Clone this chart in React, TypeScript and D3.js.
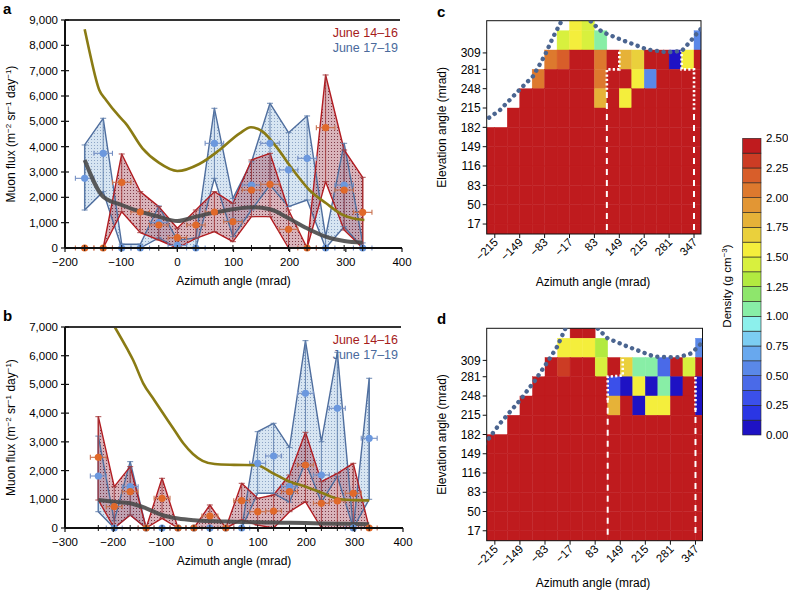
import * as d3 from 'd3'

const FONT = '"Liberation Sans", Arial, Helvetica, sans-serif'

// ---- panel a (azimuth bins, mrad) ----
const azA = [-165, -132, -99, -66, -33, 0, 33, 66, 99, 132, 165, 198, 231, 264, 297, 330]
const redAFlux = [0, 0, 2593, 1421, 908, 408, 908, 1421, 1040, 2290, 2514, 737, 0, 4751, 2290, 1408]
const redAUp = [0, 0, 3711, 2224, 1632, 777, 1500, 2224, 1764, 3474, 3737, 1500, 0, 6830, 3869, 2790]
const redALo = [0, 0, 1434, 606, 316, 0, 382, 645, 250, 1237, 1237, 0, 0, 2619, 711, 0]
const blueAFlux = [2750, 3738, 0, 0, 1000, 100, 0, 4132, 1066, 2487, 4132, 3080, 3540, 0, 2487, 0]
const blueAUp = [4067, 5120, 150, 150, 1658, 300, 400, 5514, 1960, 3400, 5712, 4553, 5212, 448, 4132, 200]
const blueALo = [1500, 2224, 0, 0, 400, 0, 0, 2750, 448, 1500, 2487, 1632, 1895, 0, 842, 0]
const grayAFlux = [3474, 2027, 1698, 1434, 1237, 1066, 1237, 1395, 1527, 1606, 1527, 1171, 777, 448, 277, 211]
const oliveAAz = [-165, -157, -139, -127, -103, -92, -62, -33, 0, 39, 75, 111, 131, 152, 176, 206, 235, 265, 295, 312, 333]
const oliveAFlux = [8634, 7817, 6238, 5843, 5184, 4921, 3934, 3368, 3039, 3316, 3868, 4526, 4764, 4593, 4000, 3079, 2290, 1764, 1303, 1171, 1105]

// ---- panel b ----
const azB = [-231, -198, -165, -132, -99, -66, -33, 0, 33, 66, 99, 132, 165, 198, 231, 264, 297, 330]
const redBFlux = [2462, 742, 1265, 0, 1033, 0, 0, 418, 0, 951, 568, 592, 1265, 2194, 860, 940, 1208, 0]
const redBUp = [3877, 1439, 2136, 0, 1730, 0, 0, 801, 0, 1556, 1033, 1149, 1846, 3333, 1613, 1904, 2252, 0]
const redBLo = [975, 0, 453, 0, 337, 0, 0, 0, 0, 279, 100, 0, 568, 916, 0, 0, 0, 0]
const blueBFlux = [1811, 0, 1439, 0, 0, 0, 0, 0, 0, 0, 2252, 2508, 1439, 4691, 1846, 4169, 0, 3124]
const blueBUp = [3200, 250, 2310, 0, 0, 0, 0, 0, 0, 0, 3354, 3646, 2800, 6524, 3007, 6120, 0, 5214]
const blueBLo = [568, 0, 450, 0, 0, 0, 0, 0, 0, 0, 1208, 1208, 900, 2300, 900, 1800, 0, 1000]
const grayBFlux = [975, 916, 860, 685, 453, 330, 270, 240, 225, 210, 200, 190, 180, 170, 160, 150, 140, 130]
const oliveBAz = [-197, -170, -159, -138, -115, -97, -75, -55, -35, -15, 10, 50, 97, 131, 165, 199, 234, 268, 300, 330]
const oliveBFlux = [7000, 6200, 5851, 5040, 4450, 3995, 3450, 2950, 2580, 2340, 2230, 2200, 2185, 1905, 1613, 1439, 1208, 1010, 970, 963]

// ---- density maps: rows top -> bottom (lower edge in mrad), columns k = -1..16 ----
const rowLows = [347, 314, 281, 248, 215, 182, 149, 116, 83, 50, 17, -16]
const N = null
const R = 2.5
const full = [R, R, R, R, R, R, R, R, R, R, R, R, R, R, R, R, R, R]
const densityC: (number | null)[][] = [
  [N, N, N, N, N, N, N, 1.55, 1.45, N, N, N, N, N, N, N, N, N],
  [N, N, N, N, N, N, 1.42, 1.55, 1.45, 1.05, N, N, N, N, N, N, N, 0.55],
  [N, N, N, N, N, 2.05, 2.2, R, R, 2.05, R, 1.8, 1.7, R, R, 0.05, 1.55, R],
  [N, N, N, N, 2.05, R, R, R, R, 2.05, R, R, 1.55, 0.6, R, R, R, R],
  [N, N, N, R, R, R, R, R, R, 1.8, R, 1.55, R, R, R, R, R, R],
  [N, N, R, R, R, R, R, R, R, R, R, R, R, R, R, R, R, R],
  full, full, full, full, full, full,
]
const densityD: (number | null)[][] = [
  [N, N, N, N, N, N, N, R, R, N, N, N, N, N, N, N, N, N],
  [N, N, N, N, N, N, 1.55, 1.55, 1.55, 1.3, N, N, N, N, N, N, N, 0.55],
  [N, N, N, N, N, R, 2.3, R, R, 1.45, R, 1.7, 1.05, 1.05, 0.4, R, 1.45, R],
  [N, N, N, N, R, R, R, R, R, R, 0.3, 0.05, 1.55, 0.1, 1.05, 0.1, R, 0.1],
  [N, N, N, R, R, R, R, R, R, R, 1.8, R, 0.1, 1.55, 1.55, R, R, 0.1],
  [N, N, R, R, R, R, R, R, R, R, R, R, R, R, R, R, R, R],
  full, full, full, full, full, full,
]
// terrain outline [column, elevation]
const boundaryC: [number, number][] = [[-0.9, 192], [0.42, 211.6], [2.02, 246.9], [3.09, 269.6], [4.03, 305.5], [4.7, 336.7], [5.37, 364], [6.5, 392], [7.65, 364], [8.59, 345.2], [10.06, 332.3], [12.2, 315.2], [13.8, 310], [15.01, 312.3], [15.68, 328.2], [16.7, 354]]
const boundaryD: [number, number][] = [[-0.8, 166], [0.42, 201.2], [2.02, 241.1], [3.23, 275.4], [4.3, 309.7], [4.97, 332.5], [5.63, 364], [6.9, 392], [8.18, 364], [8.99, 346.9], [10.6, 332.5], [12.73, 315.3], [14.61, 314.3], [15.68, 321.2], [16.48, 338.3], [16.7, 342]]
const dashC: [number, number][][] = [[[9, 7], [9, 246]], [[16, 7], [16, 212]]]
const dotC: [number, number][][] = [[[9, 246], [9, 281], [10, 281], [10, 313]], [[16, 212], [16, 281], [15, 281], [15, 313]]]
const dashD: [number, number][][] = [[[9, 10], [9, 241]], [[16, 13], [16, 224]]]
const dotD: [number, number][][] = [[[9, 241], [9, 281], [10.2, 283], [10.2, 313]], [[16, 224], [16, 281]]]

const elevTicks = [17, 50, 83, 116, 149, 182, 215, 248, 281, 309]
const azTickCols = [0, 2, 4, 6, 8, 10, 12, 14, 16]
const azTickLabels = ['−215', '−149', '−83', '−17', '83', '149', '215', '281', '347']

// colour bar, bottom (0) -> top (2.5)
const densityColors = [
  '#1e12c4', '#2a36e4', '#3b50ea', '#4a6ae8', '#5a88e8', '#68a8ee', '#7ccdf2', '#8cf0ec',
  '#88eea6', '#8ee66c', '#b2ea40', '#d8f03e', '#f4ee3c', '#ead03c', '#e6b238', '#e29634',
  '#dd792e', '#d85e2a', '#cc3c24', '#bf1b1e',
]
const densityTicks = [0, 0.25, 0.5, 0.75, 1, 1.25, 1.5, 1.75, 2, 2.25, 2.5]
const colorOf = d3.scaleQuantize<string>().domain([0, 2.5]).range(densityColors)

interface Pt { az: number; v: number; up: number; lo: number }

function zip(az: number[], v: number[], up: number[], lo: number[]): Pt[] {
  return az.map((a, i) => ({ az: a, v: v[i], up: up[i], lo: lo[i] }))
}

function FluxTitle({ x, y }: { x: number; y: number }) {
  return (
    <text transform={`translate(${x},${y}) rotate(-90)`} textAnchor="middle" fontSize={12}>
      Muon flux (m<tspan dy={-4} fontSize={8}>−2</tspan>
      <tspan dy={4}> sr</tspan><tspan dy={-4} fontSize={8}>−1</tspan>
      <tspan dy={4}> day</tspan><tspan dy={-4} fontSize={8}>−1</tspan>
      <tspan dy={4}>)</tspan>
    </text>
  )
}

interface FluxProps {
  id: string
  letter: string
  left: number
  right: number
  top: number
  bottom: number
  xDomain: [number, number]
  xTicks: number[]
  yMax: number
  az: number[]
  red: Pt[]
  blue: Pt[]
  grayFlux: number[]
  oliveAz: number[]
  oliveFlux: number[]
}

function FluxPanel(p: FluxProps) {
  const x = d3.scaleLinear().domain(p.xDomain).range([p.left, p.right])
  const y = d3.scaleLinear().domain([0, p.yMax]).range([p.bottom, p.top])
  const area = d3.area<Pt>().x((d) => x(d.az)).y0((d) => y(d.lo)).y1((d) => y(d.up))
  const smooth = d3.line<[number, number]>().x((d) => x(d[0])).y((d) => y(d[1])).curve(d3.curveMonotoneX)
  const fmt = d3.format(',')
  const yTicks = d3.range(0, p.yMax + 1, 1000)
  const halfW = 16.5

  const errBars = (pts: Pt[], vcol: string, hcol: string) =>
    pts.map((d, i) => {
      const cx = x(d.az)
      const cy = y(d.v)
      return (
        <g key={i}>
          {d.up > d.lo && (
            <g stroke={vcol} strokeWidth={0.9}>
              <line x1={cx} x2={cx} y1={y(d.up)} y2={y(d.lo)} />
              <line x1={cx - 3} x2={cx + 3} y1={y(d.up)} y2={y(d.up)} />
              <line x1={cx - 3} x2={cx + 3} y1={y(d.lo)} y2={y(d.lo)} />
            </g>
          )}
          <g stroke={hcol} strokeWidth={1.1}>
            <line x1={x(d.az - halfW)} x2={x(d.az + halfW)} y1={cy} y2={cy} />
            <line x1={x(d.az - halfW)} x2={x(d.az - halfW)} y1={cy - 2.5} y2={cy + 2.5} />
            <line x1={x(d.az + halfW)} x2={x(d.az + halfW)} y1={cy - 2.5} y2={cy + 2.5} />
          </g>
        </g>
      )
    })

  return (
    <g>
      <defs>
        <clipPath id={`clip-${p.id}`}>
          <rect x={p.left} y={p.top} width={p.right - p.left} height={p.bottom - p.top + 4} />
        </clipPath>
      </defs>
      <text x={3} y={p.top - 6} fontSize={15} fontWeight="bold">{p.letter}</text>
      <g clipPath={`url(#clip-${p.id})`}>
        <path d={area(p.blue) ?? ''} fill="rgba(160,192,224,0.42)" />
        <path d={area(p.blue) ?? ''} fill="url(#dotB)" />
        <path d={area(p.red) ?? ''} fill="rgba(150,45,65,0.36)" />
        <path d={area(p.red) ?? ''} fill="url(#dotR)" />
        <path d={area(p.blue) ?? ''} fill="none" stroke="#4f6e9e" strokeWidth={1.4} strokeLinejoin="round" />
        <path d={area(p.red) ?? ''} fill="none" stroke="#b21d22" strokeWidth={1.4} strokeLinejoin="round" />
        {errBars(p.blue, '#5f7eac', '#7590c4')}
        {errBars(p.red, '#a33a3c', '#c8704e')}
        <path
          d={smooth(p.oliveAz.map((a, i) => [a, p.oliveFlux[i]] as [number, number])) ?? ''}
          fill="none" stroke="#8a7b14" strokeWidth={2.6}
        />
        <path
          d={smooth(p.az.map((a, i) => [a, p.grayFlux[i]] as [number, number])) ?? ''}
          fill="none" stroke="#4a4a4a" strokeOpacity={0.9} strokeWidth={4}
        />
        {p.blue.map((d, i) => <circle key={`b${i}`} cx={x(d.az)} cy={y(d.v)} r={3.6} fill="#6b98de" />)}
        {p.red.map((d, i) => <circle key={`r${i}`} cx={x(d.az)} cy={y(d.v)} r={3.6} fill="#e0692a" />)}
      </g>
      {/* axes */}
      <line x1={p.left} x2={p.right - 2} y1={p.top} y2={p.top} stroke="#333" strokeWidth={2} />
      <line x1={p.left} x2={p.left} y1={p.top} y2={p.bottom} stroke="#111" strokeWidth={2} />
      <line x1={p.left} x2={p.right} y1={p.bottom} y2={p.bottom} stroke="#111" strokeWidth={2} />
      {yTicks.map((t) => (
        <g key={t}>
          <line x1={p.left - 4} x2={p.left + 4} y1={y(t)} y2={y(t)} stroke="#111" strokeWidth={1.2} />
          <text x={p.left - 7} y={y(t)} dy="0.35em" textAnchor="end" fontSize={11.5}>{fmt(t)}</text>
        </g>
      ))}
      {p.az.map((a) => (
        <line key={a} x1={x(a)} x2={x(a)} y1={p.bottom - 3} y2={p.bottom + 3} stroke="#111" strokeWidth={1} />
      ))}
      {p.xTicks.map((t) => (
        <g key={t}>
          <line x1={x(t)} x2={x(t)} y1={p.bottom} y2={p.bottom + 4} stroke="#111" strokeWidth={1.2} />
          <text x={x(t)} y={p.bottom + 18} textAnchor="middle" fontSize={11.5}>{fmt(t)}</text>
        </g>
      ))}
      <text x={(p.left + p.right) / 2} y={p.bottom + 37} textAnchor="middle" fontSize={12}>Azimuth angle (mrad)</text>
      <FluxTitle x={15} y={(p.top + p.bottom) / 2} />
      <text x={398} y={p.top + 17} textAnchor="end" fontSize={12.5} fill="#a51c1c">June 14–16</text>
      <text x={398} y={p.top + 32} textAnchor="end" fontSize={12.5} fill="#4a6a9c">June 17–19</text>
    </g>
  )
}

interface HeatProps {
  id: string
  letter: string
  left: number
  right: number
  top: number
  bottom: number
  rows: (number | null)[][]
  boundary: [number, number][]
  dash: [number, number][][]
  dot: [number, number][][]
  titleY: number
}

function HeatPanel(p: HeatProps) {
  const x = d3.scaleLinear().domain([-0.65, 16.56]).range([p.left, p.right])
  const y = d3.scaleLinear().domain([0, 364]).range([p.bottom, p.top])
  const line = d3.line<[number, number]>().x((d) => x(d[0])).y((d) => y(d[1]))
  return (
    <g>
      <defs>
        <clipPath id={`clip-${p.id}`}>
          <rect x={p.left} y={p.top} width={p.right - p.left} height={p.bottom - p.top} />
        </clipPath>
      </defs>
      <text x={437} y={p.top - 4} fontSize={15} fontWeight="bold">{p.letter}</text>
      <g clipPath={`url(#clip-${p.id})`}>
        {p.rows.map((row, ri) =>
          row.map((v, ci) => {
            if (v === null) return null
            const lo = rowLows[ri]
            const x0 = x(ci - 1)
            const x1 = x(ci)
            const c = colorOf(v)
            return (
              <rect key={`${ri}-${ci}`} x={x0} y={y(lo + 33)} width={x1 - x0} height={y(lo) - y(lo + 33)}
                fill={c} stroke={c} strokeWidth={0.4} />
            )
          }),
        )}
        {p.dash.map((seg, i) => (
          <path key={`da${i}`} d={line(seg) ?? ''} fill="none" stroke="#fff" strokeWidth={2} strokeDasharray="6 5" />
        ))}
        {p.dot.map((seg, i) => (
          <path key={`do${i}`} d={line(seg) ?? ''} fill="none" stroke="#fff" strokeWidth={2.6} strokeDasharray="2.2 2.2" />
        ))}
      </g>
      <rect x={p.left} y={p.top} width={p.right - p.left} height={p.bottom - p.top} fill="none" stroke="#111" strokeWidth={1} />
      <path d={line(p.boundary) ?? ''} fill="none" stroke="#4b6590" strokeWidth={4.4}
        strokeLinecap="round" strokeDasharray="0.1 6.6" clipPath={`url(#clip-${p.id})`} />
      {elevTicks.map((t) => (
        <g key={t}>
          <line x1={p.left - 4} x2={p.left} y1={y(t)} y2={y(t)} stroke="#111" />
          <text x={p.left - 6} y={y(t)} dy="0.35em" textAnchor="end" fontSize={12}>{t}</text>
        </g>
      ))}
      {azTickCols.map((c, i) => (
        <g key={c}>
          <line x1={x(c)} x2={x(c)} y1={p.bottom} y2={p.bottom + 4} stroke="#111" />
          <text transform={`translate(${x(c) + 4},${p.bottom + 9}) rotate(-45)`} textAnchor="end" fontSize={11.5}>
            {azTickLabels[i]}
          </text>
        </g>
      ))}
      <text transform={`translate(446,${(p.top + p.bottom) / 2}) rotate(-90)`} textAnchor="middle" fontSize={12}>
        Elevation angle (mrad)
      </text>
      <text x={593} y={p.titleY} textAnchor="middle" fontSize={12}>Azimuth angle (mrad)</text>
    </g>
  )
}

function ColorBar() {
  const y = d3.scaleLinear().domain([0, 2.5]).range([435, 138.3])
  const step = 2.5 / densityColors.length
  return (
    <g>
      {densityColors.map((c, i) => (
        <rect key={i} x={742.7} y={y((i + 1) * step)} width={18.3} height={y(i * step) - y((i + 1) * step)}
          fill={c} stroke="#222" strokeWidth={0.6} />
      ))}
      {densityTicks.map((t) => (
        <text key={t} x={766} y={y(t)} dy="0.35em" fontSize={11.5}>{d3.format('.2f')(t)}</text>
      ))}
      <text transform="translate(731,286) rotate(-90)" textAnchor="middle" fontSize={11.5}>
        Density (g cm<tspan dy={-4} fontSize={8}>−3</tspan><tspan dy={4}>)</tspan>
      </text>
    </g>
  )
}

export default function App() {
  return (
    <div style={{ position: 'absolute', left: 0, top: 0 }}>
      <svg width={788} height={590} style={{ display: 'block', background: '#fff', fontFamily: FONT }}>
        <defs>
          <pattern id="dotB" width={3} height={3} patternUnits="userSpaceOnUse">
            <circle cx={1.5} cy={1.5} r={0.55} fill="#7f98bd" />
          </pattern>
          <pattern id="dotR" width={3} height={3} patternUnits="userSpaceOnUse">
            <circle cx={1.5} cy={1.5} r={0.55} fill="#6f2434" />
          </pattern>
        </defs>
        <FluxPanel
          id="a" letter="a" left={65} right={402} top={20} bottom={248}
          xDomain={[-200, 400]} xTicks={[-200, -100, 0, 100, 200, 300, 400]} yMax={9000}
          az={azA} red={zip(azA, redAFlux, redAUp, redALo)} blue={zip(azA, blueAFlux, blueAUp, blueALo)}
          grayFlux={grayAFlux} oliveAz={oliveAAz} oliveFlux={oliveAFlux}
        />
        <FluxPanel
          id="b" letter="b" left={65} right={403} top={327} bottom={528}
          xDomain={[-300, 400]} xTicks={[-300, -200, -100, 0, 100, 200, 300, 400]} yMax={7000}
          az={azB} red={zip(azB, redBFlux, redBUp, redBLo)} blue={zip(azB, blueBFlux, blueBUp, blueBLo)}
          grayFlux={grayBFlux} oliveAz={oliveBAz} oliveFlux={oliveBFlux}
        />
        <HeatPanel id="c" letter="c" left={486.7} right={701} top={20.7} bottom={234}
          rows={densityC} boundary={boundaryC} dash={dashC} dot={dotC} titleY={286} />
        <HeatPanel id="d" letter="d" left={486.7} right={702.5} top={328.3} bottom={540.7}
          rows={densityD} boundary={boundaryD} dash={dashD} dot={dotD} titleY={587} />
        <ColorBar />
      </svg>
    </div>
  )
}
